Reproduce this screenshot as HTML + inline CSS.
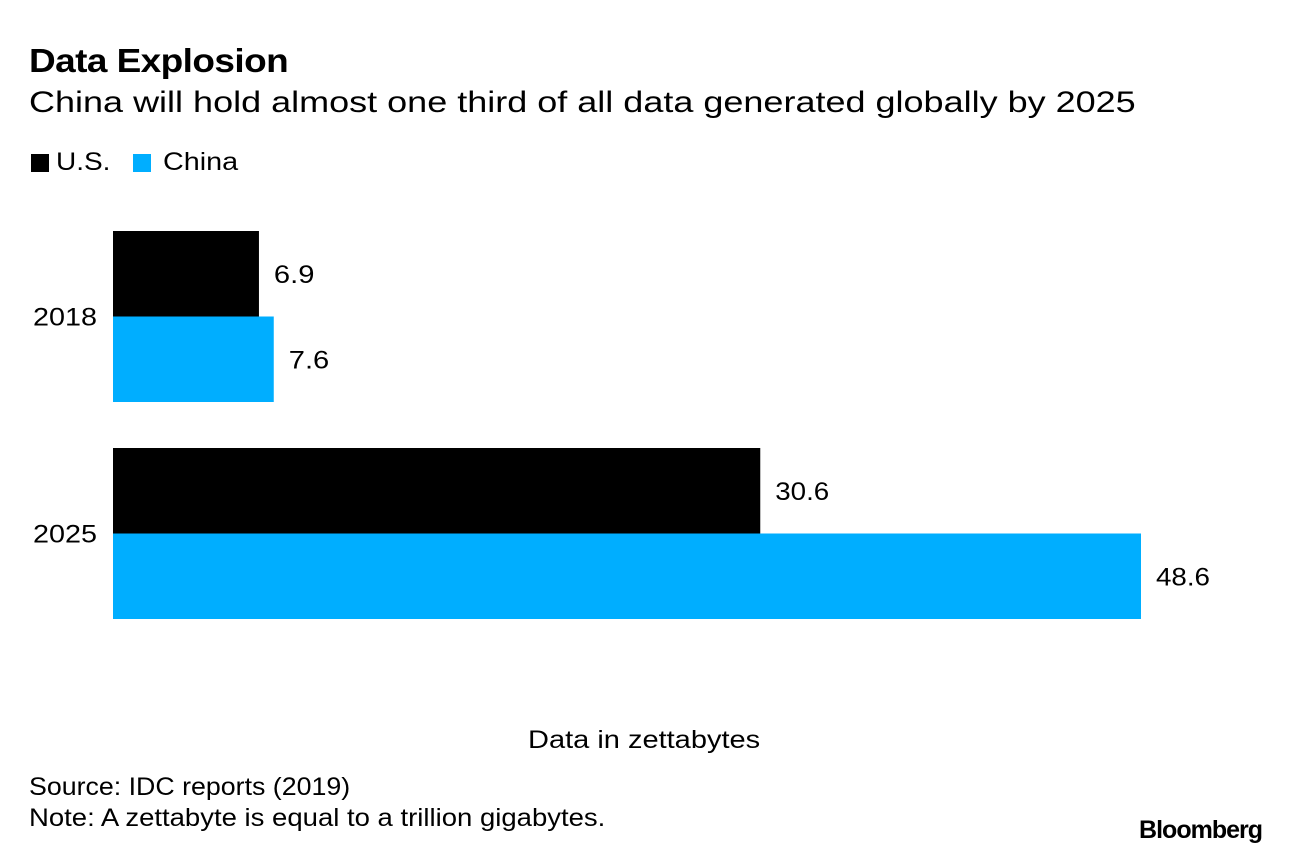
<!DOCTYPE html>
<html><head><meta charset="utf-8"><style>
body{margin:0;width:1289px;height:858px;background:#fff;font-family:"Liberation Sans",Arial,sans-serif;overflow:hidden;position:relative;color:#000}
.t{position:absolute;white-space:nowrap;transform-origin:0 0}
</style></head><body>
<div class="t" style="left:29px;top:42px;font-size:33px;font-weight:bold;letter-spacing:-0.5px;transform:scaleX(1.12)">Data Explosion</div>
<div class="t" style="left:29px;top:86px;font-size:30px;transform:scaleX(1.2)">China will hold almost one third of all data generated globally by 2025</div>
<div>
<div class="t" style="left:31px;top:154px;width:18px;height:18px;background:#000"></div>
<div class="t" style="left:56px;top:148px;font-size:25px;transform:scaleX(1.12)">U.S.</div>
<div class="t" style="left:133px;top:154px;width:18px;height:18px;background:#00aeff"></div>
<div class="t" style="left:163px;top:148px;font-size:25px;transform:scaleX(1.15)">China</div>
</div>
<svg id="chart" width="1289" height="858" style="position:absolute;left:0;top:0"></svg>
<div class="t" style="left:528px;top:726px;font-size:25px;transform:scaleX(1.16)">Data in zettabytes</div>
<div class="t" style="left:29px;top:773px;font-size:25px;transform:scaleX(1.07)">Source: IDC reports (2019)</div>
<div class="t" style="left:29px;top:804px;font-size:25px;transform:scaleX(1.1)">Note: A zettabyte is equal to a trillion gigabytes.</div>
<div class="t" style="right:27px;top:816px;font-size:25px;font-weight:bold;letter-spacing:-1px">Bloomberg</div>
<script>
const categories=["2018","2025"];
const usValues=[6.9,30.6];
const chinaValues=[7.6,48.6];
const valueLabels={us:["6.9","30.6"],china:["7.6","48.6"]};
const NS="http://www.w3.org/2000/svg";
const svg=document.getElementById('chart');
const x0=113,pxPerUnit=1028/48.6;
function xs(v){return x0+v*pxPerUnit;}
const groupTop=[231,448],barH=85.5;
function mk(tag,attrs){const e=document.createElementNS(NS,tag);for(const k in attrs)e.setAttribute(k,attrs[k]);svg.appendChild(e);return e;}
categories.forEach((c,i)=>{
  const y=groupTop[i];
  const cl=mk('text',{x:97,y:y+barH+9,'text-anchor':'end','font-size':25,'textLength':64,'lengthAdjust':'spacingAndGlyphs','font-family':'Liberation Sans, sans-serif'});
  cl.textContent=c;
  
  
  [[usValues,'#000','us'],[chinaValues,'#00aeff','china']].forEach(([arr,col,key],j)=>{
    const by=y+j*barH;
    const r=mk('rect',{x:x0,y:by,width:xs(arr[i])-x0,height:barH,fill:col});
    
    
    const lbl=valueLabels[key][i];
    const t=mk('text',{x:xs(arr[i])+15,y:by+barH/2+9,'font-size':25,'textLength':lbl.length*13.5,'lengthAdjust':'spacingAndGlyphs','font-family':'Liberation Sans, sans-serif'});
    t.textContent=lbl;
    
    
  });
});
</script>
</body></html>
